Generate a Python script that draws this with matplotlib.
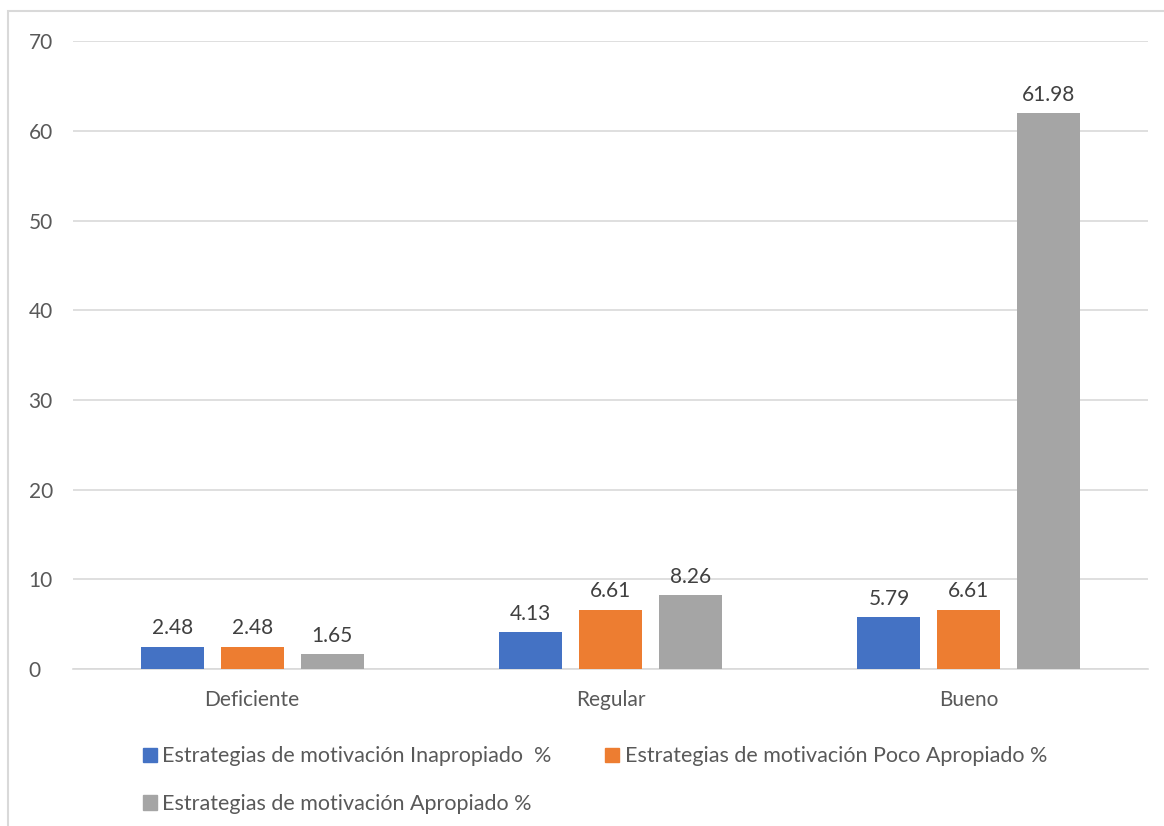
import matplotlib.pyplot as plt
from matplotlib.patches import Rectangle, Patch
import numpy as np

plt.rcParams['font.family'] = ['Lato', 'DejaVu Sans']

# datos
categorias = ["Deficiente", "Regular", "Bueno"]
inapropiado = [2.48, 4.13, 5.79]
poco_apropiado = [2.48, 6.61, 6.61]
apropiado = [1.65, 8.26, 61.98]
series = ["Estrategias de motivación Inapropiado  %",
          "Estrategias de motivación Poco Apropiado %",
          "Estrategias de motivación Apropiado %"]
colores = ["#4472c4", "#ed7d31", "#a5a5a5"]

fig = plt.figure(figsize=(11.64, 8.26), dpi=100)
ax = fig.add_axes([0.0627, 0.19, 0.9236, 0.76])

x = np.arange(len(categorias))
ancho = 0.176
paso = 0.223
for i, (vals, col) in enumerate(zip([inapropiado, poco_apropiado, apropiado], colores)):
    barras = ax.bar(x + (i - 1) * paso, vals, ancho, color=col, zorder=3)
    ax.bar_label(barras, labels=[f"{v:.2f}" for v in vals], padding=6,
                 fontsize=15, color="#404040")

ax.set_xlim(-0.5, 2.5)
ax.set_ylim(0, 70)
ax.set_yticks(range(0, 71, 10))
ax.set_xticks(x)
ax.set_xticklabels(categorias)
ax.tick_params(axis='both', length=0, labelsize=15, labelcolor="#595959")
ax.tick_params(axis='x', pad=15)
ax.tick_params(axis='y', pad=32)
for lbl in ax.get_yticklabels():
    lbl.set_horizontalalignment('left')
ax.grid(axis='y', color="#d9d9d9", linewidth=1.2, zorder=0)
for s in ['top', 'right', 'left']:
    ax.spines[s].set_visible(False)
ax.spines['bottom'].set_color("#d9d9d9")
ax.spines['bottom'].set_linewidth(1.2)

# leyenda (orden por filas)
h = [Patch(color=c) for c in colores]
orden = [0, 2, 1]
fig.legend([h[k] for k in orden], [series[k] for k in orden], ncol=2,
           loc='upper left', bbox_to_anchor=(0.106, 0.12), frameon=False,
           fontsize=15.5, labelcolor="#595959", handlelength=0.65, handleheight=0.65,
           handletextpad=0.25, columnspacing=2.5, labelspacing=1.3)

# borde del grafico
fig.patches.append(Rectangle((8 / 1164, -0.1), 1.5, 1.1 - 11 / 826,
                             transform=fig.transFigure, fill=False,
                             edgecolor="#d9d9d9", linewidth=1.5))

fig.savefig("out.png", dpi=100)
